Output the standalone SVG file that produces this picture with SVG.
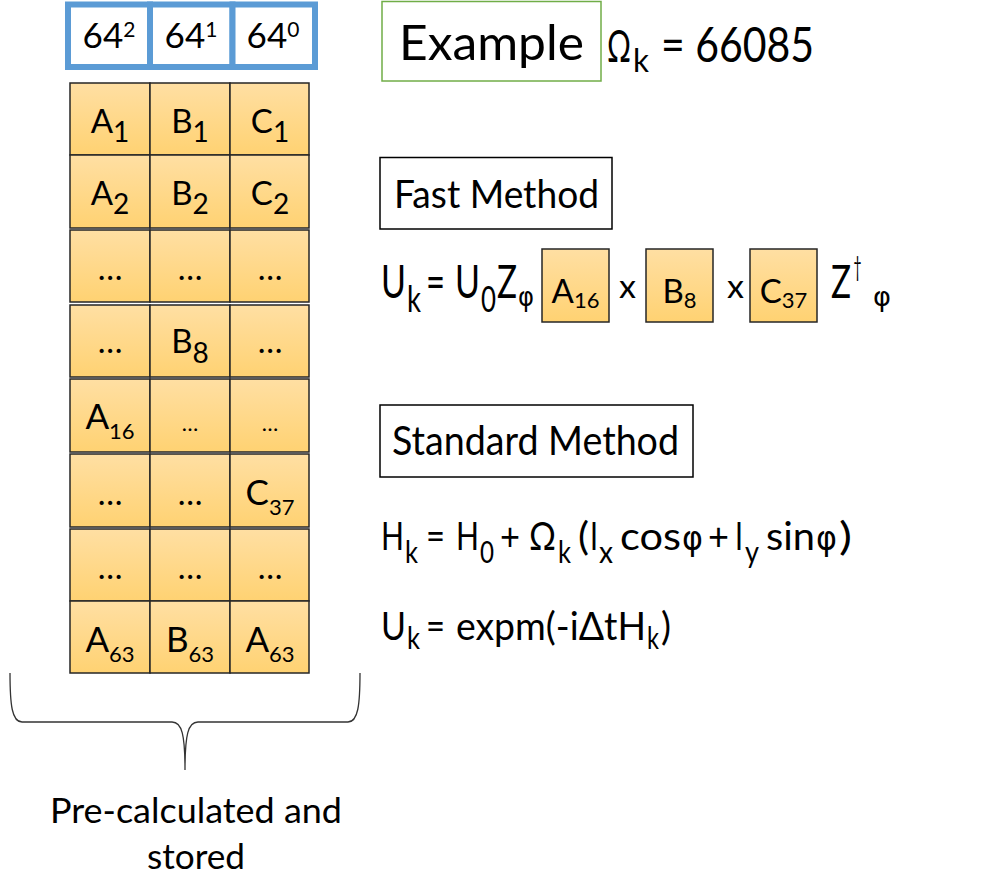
<svg xmlns="http://www.w3.org/2000/svg" width="983" height="875" viewBox="0 0 983 875">
<defs>
<linearGradient id="gold" x1="0" y1="0" x2="0" y2="1">
<stop offset="0" stop-color="#FFDFA3"/>
<stop offset="1" stop-color="#FFD272"/>
</linearGradient>
<style>
text{font-family:Lato,"DejaVu Sans",sans-serif;fill:#000}
.phi{font-family:"DejaVu Sans",sans-serif}
.hd{fill:#fff;stroke:#5B9BD5;stroke-width:6}
.cell{fill:url(#gold);stroke:#262626;stroke-width:1.5}
.ct{font-size:33px;text-anchor:middle}
.sb{font-size:28px}
.sb2{font-size:22px}
.dot{font-size:33px;text-anchor:middle}
.sdot{font-size:22px;text-anchor:middle}
.box{fill:#fff;stroke:#000;stroke-width:1.5}
.eqA{font-size:46px}
.eqAs{font-size:36px}
.eqB{font-size:39px}
.eqBs{font-size:30px}
</style>
</defs>

<g id="header">
<rect class="hd" x="68" y="4.5" width="82" height="62.5"/>
<rect class="hd" x="150" y="4.5" width="82.5" height="62.5"/>
<rect class="hd" x="232.5" y="4.5" width="82.5" height="62.5"/>
<text x="109" y="48" style="font-size:35px;text-anchor:middle">64<tspan dy="-11" style="font-size:21px">2</tspan></text>
<text x="191" y="48" style="font-size:35px;text-anchor:middle">64<tspan dy="-11" style="font-size:21px">1</tspan></text>
<text x="273" y="48" style="font-size:35px;text-anchor:middle">64<tspan dy="-11" style="font-size:21px">0</tspan></text>
</g>

<g id="row1">
<rect class="cell" x="70" y="83" width="80" height="72"/>
<rect class="cell" x="150" y="83" width="80" height="72"/>
<rect class="cell" x="230" y="83" width="79" height="72"/>
<text class="ct" x="110" y="133">A<tspan class="sb" dy="9">1</tspan></text>
<text class="ct" x="190" y="133">B<tspan class="sb" dy="9">1</tspan></text>
<text class="ct" x="270" y="133">C<tspan class="sb" dy="9">1</tspan></text>
</g>
<g id="row2">
<rect class="cell" x="70" y="155" width="80" height="73"/>
<rect class="cell" x="150" y="155" width="80" height="73"/>
<rect class="cell" x="230" y="155" width="79" height="73"/>
<text class="ct" x="110" y="205">A<tspan class="sb" dy="9">2</tspan></text>
<text class="ct" x="190" y="205">B<tspan class="sb" dy="9">2</tspan></text>
<text class="ct" x="270" y="205">C<tspan class="sb" dy="9">2</tspan></text>
</g>
<g id="row3">
<rect class="cell" x="70" y="230" width="80" height="72"/>
<rect class="cell" x="150" y="230" width="80" height="72"/>
<rect class="cell" x="230" y="230" width="79" height="72"/>
<text class="dot" x="110" y="280">…</text>
<text class="dot" x="190" y="280">…</text>
<text class="dot" x="270" y="280">…</text>
</g>
<g id="row4">
<rect class="cell" x="70" y="305" width="80" height="72"/>
<rect class="cell" x="150" y="305" width="80" height="72"/>
<rect class="cell" x="230" y="305" width="79" height="72"/>
<text class="dot" x="110" y="353">…</text>
<text class="ct" x="190" y="353">B<tspan class="sb" dy="10">8</tspan></text>
<text class="dot" x="270" y="353">…</text>
</g>
<g id="row5">
<rect class="cell" x="70" y="379" width="80" height="73"/>
<rect class="cell" x="150" y="379" width="80" height="73"/>
<rect class="cell" x="230" y="379" width="79" height="73"/>
<text class="ct" x="110" y="429" style="font-size:35px">A<tspan class="sb2" dy="10">16</tspan></text>
<text class="sdot" x="190" y="431">…</text>
<text class="sdot" x="270" y="431">…</text>
</g>
<g id="row6">
<rect class="cell" x="70" y="454" width="80" height="73"/>
<rect class="cell" x="150" y="454" width="80" height="73"/>
<rect class="cell" x="230" y="454" width="79" height="73"/>
<text class="dot" x="110" y="505">…</text>
<text class="dot" x="190" y="505">…</text>
<text class="ct" x="270" y="505" style="font-size:35px">C<tspan class="sb2" dy="10">37</tspan></text>
</g>
<g id="row7">
<rect class="cell" x="70" y="529" width="80" height="72"/>
<rect class="cell" x="150" y="529" width="80" height="72"/>
<rect class="cell" x="230" y="529" width="79" height="72"/>
<text class="dot" x="110" y="579">…</text>
<text class="dot" x="190" y="579">…</text>
<text class="dot" x="270" y="579">…</text>
</g>
<g id="row8">
<rect class="cell" x="70" y="601" width="80" height="72"/>
<rect class="cell" x="150" y="601" width="80" height="72"/>
<rect class="cell" x="230" y="601" width="79" height="72"/>
<text class="ct" x="110" y="652" style="font-size:35px">A<tspan class="sb2" dy="10">63</tspan></text>
<text class="ct" x="190" y="652" style="font-size:35px">B<tspan class="sb2" dy="10">63</tspan></text>
<text class="ct" x="270" y="652" style="font-size:35px">A<tspan class="sb2" dy="10">63</tspan></text>
</g>

<g id="brace">
<path d="M10,673 C10,705 12,722 22,722 L172,722 C182,722 185,735 185,770 C185,735 188,722 198,722 L348,722 C358,722 360,705 360,673" fill="none" stroke="#333" stroke-width="1.3"/>
<text x="196" y="823" style="font-size:35px;text-anchor:middle" textLength="292" lengthAdjust="spacingAndGlyphs">Pre-calculated and</text>
<text x="196" y="869" style="font-size:35px;text-anchor:middle" textLength="98" lengthAdjust="spacingAndGlyphs">stored</text>
</g>

<g id="example">
<rect x="382" y="1.5" width="219" height="79.5" fill="#fff" stroke="#70AD47" stroke-width="1.5"/>
<text x="399" y="60" style="font-size:49px" textLength="185" lengthAdjust="spacingAndGlyphs">Example</text>
</g>
<g id="omega">
<text y="62" style="font-size:48px"><tspan x="607" style="font-size:45px" textLength="24" lengthAdjust="spacingAndGlyphs">Ω</tspan><tspan x="633" y="72" style="font-size:33px" textLength="16" lengthAdjust="spacingAndGlyphs">k</tspan><tspan x="661" y="62" textLength="153" lengthAdjust="spacingAndGlyphs">= 66085</tspan></text>
</g>

<g id="fast-method">
<rect class="box" x="380" y="157.5" width="232" height="71.5"/>
<text x="394" y="208" style="font-size:39px" textLength="205" lengthAdjust="spacingAndGlyphs">Fast Method</text>
</g>

<g id="fast-eq">
<text class="eqA" y="298"><tspan x="381" textLength="25" lengthAdjust="spacingAndGlyphs">U</tspan><tspan class="eqAs" x="407" y="312" textLength="14" lengthAdjust="spacingAndGlyphs">k</tspan><tspan x="426" y="298" textLength="19" lengthAdjust="spacingAndGlyphs">=</tspan><tspan x="455" textLength="25" lengthAdjust="spacingAndGlyphs">U</tspan><tspan class="eqAs" x="481" y="312" textLength="15" lengthAdjust="spacingAndGlyphs">0</tspan><tspan x="497" y="298" textLength="20" lengthAdjust="spacingAndGlyphs">Z</tspan><tspan class="phi" style="font-size:26px" x="518" y="306" textLength="16" lengthAdjust="spacingAndGlyphs">φ</tspan></text>
<text style="font-size:32px" x="619" y="298" textLength="17" lengthAdjust="spacingAndGlyphs">x</text>
<text style="font-size:32px" x="727" y="298" textLength="17" lengthAdjust="spacingAndGlyphs">x</text>
<text class="eqA" y="298"><tspan x="831" textLength="20" lengthAdjust="spacingAndGlyphs">Z</tspan><tspan style="font-size:26px" x="853.5" y="276" textLength="8" lengthAdjust="spacingAndGlyphs">†</tspan><tspan class="phi" style="font-size:26px" x="873" y="306" textLength="18" lengthAdjust="spacingAndGlyphs">φ</tspan></text>
</g>
<g id="boxA16">
<rect class="cell" x="542" y="249" width="67" height="73"/>
<text class="ct" x="575.5" y="303">A<tspan class="sb2" dy="5">16</tspan></text>
</g>
<g id="boxB8">
<rect class="cell" x="646" y="249" width="67" height="73"/>
<text class="ct" x="679.5" y="303">B<tspan class="sb2" dy="5">8</tspan></text>
</g>
<g id="boxC37">
<rect class="cell" x="750" y="249" width="67" height="73"/>
<text class="ct" x="783.5" y="303">C<tspan class="sb2" dy="5">37</tspan></text>
</g>

<g id="standard-method">
<rect class="box" x="380" y="405" width="313" height="72"/>
<text x="392" y="455" style="font-size:40px" textLength="287" lengthAdjust="spacingAndGlyphs">Standard Method</text>
</g>

<g id="h-eq">
<text class="eqB" y="550"><tspan x="381" textLength="23" lengthAdjust="spacingAndGlyphs">H</tspan><tspan class="eqBs" x="405" y="563" textLength="13" lengthAdjust="spacingAndGlyphs">k</tspan><tspan x="426" y="550" textLength="19" lengthAdjust="spacingAndGlyphs">=</tspan><tspan x="456" textLength="23" lengthAdjust="spacingAndGlyphs">H</tspan><tspan class="eqBs" x="480" y="563" textLength="14" lengthAdjust="spacingAndGlyphs">0</tspan><tspan x="500" y="550" textLength="20" lengthAdjust="spacingAndGlyphs">+</tspan><tspan x="529" textLength="27" lengthAdjust="spacingAndGlyphs">Ω</tspan><tspan class="eqBs" x="558" y="563" textLength="13" lengthAdjust="spacingAndGlyphs">k</tspan><tspan x="578" y="550" textLength="11" lengthAdjust="spacingAndGlyphs">(</tspan><tspan x="590" textLength="8" lengthAdjust="spacingAndGlyphs">I</tspan><tspan class="eqBs" x="599" y="563" textLength="14" lengthAdjust="spacingAndGlyphs">x</tspan><tspan x="620" y="550" textLength="61" lengthAdjust="spacingAndGlyphs">cos</tspan><tspan class="phi" x="682" style="font-size:34px" textLength="21" lengthAdjust="spacingAndGlyphs">φ</tspan><tspan x="708" textLength="21" lengthAdjust="spacingAndGlyphs">+</tspan><tspan x="735" textLength="8" lengthAdjust="spacingAndGlyphs">I</tspan><tspan class="eqBs" x="745" y="563" textLength="14" lengthAdjust="spacingAndGlyphs">y</tspan><tspan x="766" y="550" textLength="49" lengthAdjust="spacingAndGlyphs">sin</tspan><tspan class="phi" x="816" style="font-size:34px" textLength="21" lengthAdjust="spacingAndGlyphs">φ</tspan><tspan x="839" textLength="13" lengthAdjust="spacingAndGlyphs">)</tspan></text>
</g>

<g id="u-eq">
<text class="eqB" y="640"><tspan x="381" textLength="25" lengthAdjust="spacingAndGlyphs">U</tspan><tspan class="eqBs" x="407" y="649" textLength="13" lengthAdjust="spacingAndGlyphs">k</tspan><tspan x="426" y="640" textLength="19" lengthAdjust="spacingAndGlyphs">=</tspan><tspan x="456" textLength="190" lengthAdjust="spacingAndGlyphs">expm(-iΔtH</tspan><tspan class="eqBs" x="647" y="649" textLength="12" lengthAdjust="spacingAndGlyphs">k</tspan><tspan x="661" y="640" textLength="10" lengthAdjust="spacingAndGlyphs">)</tspan></text>
</g>
</svg>
